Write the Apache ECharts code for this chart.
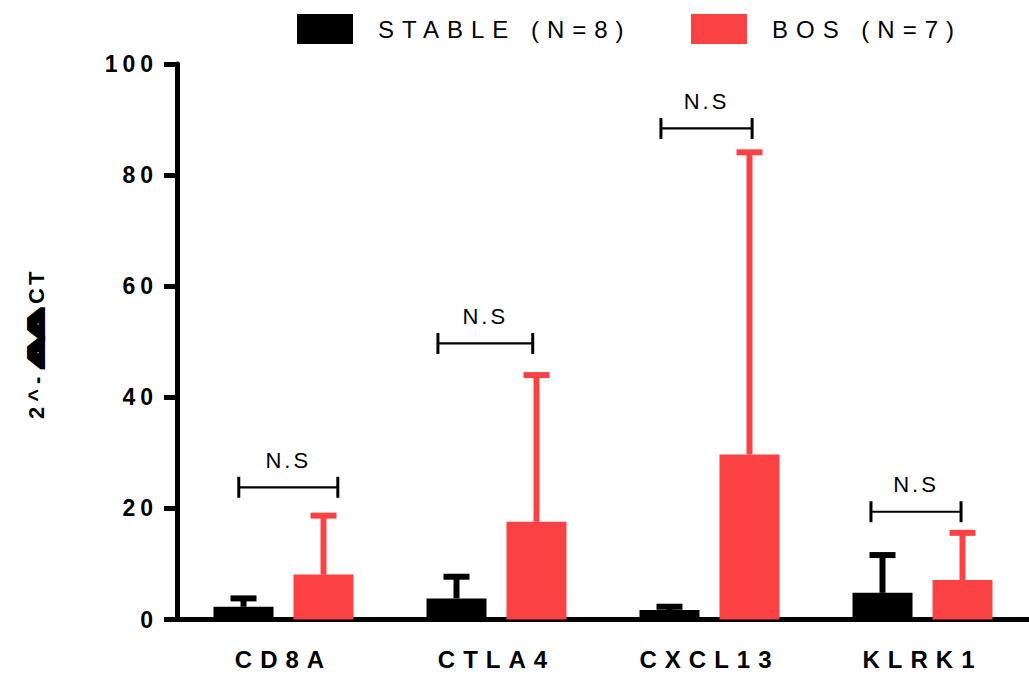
<!DOCTYPE html>
<html>
<head>
<meta charset="utf-8">
<script src="https://cdn.jsdelivr.net/npm/echarts@6/dist/echarts.min.js"></script>
<style>html,body{margin:0;padding:0;background:#fff}#c{width:1029px;height:677px}</style>
</head>
<body>
<div id="c"></div>
<script>
// ---- data ----
const categories = ['CD8A', 'CTLA4', 'CXCL13', 'KLRK1'];
const stableMean = [2.3, 3.8, 1.7, 4.8];
const stableUpper = [3.8, 7.7, 2.3, 11.6];
const bosMean = [8.1, 17.6, 29.7, 7.1];
const bosUpper = [18.7, 44.0, 84.1, 15.6];
const bracketStart = [0.29, 1.225, 2.272, 3.258];
const bracketEnd = [0.755, 1.67, 2.70, 3.681];
const bracketY = [23.8, 49.7, 88.4, 19.4];
const bracketLabel = 'N.S';
const yTicks = [0, 20, 40, 60, 80, 100];
const legendNames = ['STABLE (N=8)', 'BOS (N=7)'];
const yNameParts = ['2^-', 'ΔΔ', 'CT'];

const BLACK = '#000000';
const RED = '#fa4245';
const FONT = 'Liberation Sans';

const chart = echarts.init(document.getElementById('c'), null, {renderer: 'svg'});

function errRender(offset, color) {
  return function (params, api) {
    const cat = api.value(0);
    const m = api.coord([cat, api.value(1)]);
    const u = api.coord([cat, api.value(2)]);
    const x = m[0] + offset;
    return {
      type: 'group',
      children: [
        {type: 'rect', shape: {x: x - 3, y: u[1], width: 6, height: m[1] - u[1]}, style: {fill: color}},
        {type: 'rect', shape: {x: x - 13, y: u[1] - 3, width: 26, height: 6}, style: {fill: color}}
      ]
    };
  };
}

function bracketRender(params, api) {
  const a = api.coord([api.value(0), api.value(2)]);
  const b = api.coord([api.value(1), api.value(2)]);
  const y = a[1];
  return {
    type: 'group',
    children: [
      {type: 'line', shape: {x1: a[0], y1: y, x2: b[0], y2: y}, style: {stroke: BLACK, lineWidth: 2.2}},
      {type: 'line', shape: {x1: a[0], y1: y - 10.5, x2: a[0], y2: y + 10.5}, style: {stroke: BLACK, lineWidth: 3}},
      {type: 'line', shape: {x1: b[0], y1: y - 10.5, x2: b[0], y2: y + 10.5}, style: {stroke: BLACK, lineWidth: 3}},
      {type: 'text', x: (a[0] + b[0]) / 2, y: y - 27,
        style: {text: bracketLabel, font: '22px "Liberation Sans"', fill: BLACK,
          align: 'center', verticalAlign: 'middle', textAlign: 'center', textVerticalAlign: 'middle'}}
    ]
  };
}

const legendBase = {
  top: 14, itemWidth: 56, itemHeight: 30, icon: 'rect', selectedMode: false, padding: 0,
  textStyle: {fontSize: 24, fontFamily: FONT, color: BLACK, padding: [5, 0, 0, 20]}
};

const nameTxt = (text, x, y, font, extra) => ({
  type: 'text', x: x, y: y, rotation: Math.PI / 2,
  style: Object.assign({text: text, font: font, fill: BLACK,
    align: 'left', verticalAlign: 'middle', textAlign: 'left', textVerticalAlign: 'middle'}, extra || {})
});

const deltaEl = nameTxt(yNameParts[1], 36, 367, 'bold 20px "Liberation Sans"',
  {stroke: BLACK, lineWidth: 4, lineJoin: 'miter'});
deltaEl.scaleX = 2.0;
deltaEl.scaleY = 1;

const option = {
  animation: false,
  legend: [
    Object.assign({}, legendBase, {left: 297, data: [legendNames[0]]}),
    Object.assign({}, legendBase, {left: 691, data: [legendNames[1]]})
  ],
  grid: {left: 177, right: 0, top: 64, bottom: 57.5, containLabel: false},
  xAxis: [
    {
      type: 'category', data: categories,
      axisLine: {lineStyle: {color: BLACK, width: 5}},
      axisTick: {alignWithLabel: true, length: 12, lineStyle: {color: BLACK, width: 4}},
      axisLabel: {color: BLACK, fontSize: 24, fontWeight: 'bold', fontFamily: FONT, margin: 28}
    },
    {type: 'value', min: 0, max: 4, show: false}
  ],
  yAxis: {
    type: 'value', min: 0, max: 100, interval: 20,
    axisLine: {show: true, lineStyle: {color: BLACK, width: 5}},
    axisTick: {show: true, length: 13, lineStyle: {color: BLACK, width: 5}},
    axisLabel: {color: BLACK, fontSize: 23, fontWeight: 'bold', fontFamily: FONT, margin: 19},
    splitLine: {show: false}
  },
  graphic: [
    nameTxt(yNameParts[0], 36, 419, 'bold 22px "Liberation Sans"'),
    deltaEl,
    nameTxt(yNameParts[2], 36, 304, 'bold 22px "Liberation Sans"')
  ],
  series: [
    {name: legendNames[0], type: 'bar', data: stableMean, barWidth: 60, barGap: '33.33%', itemStyle: {color: BLACK}, z: 2},
    {name: legendNames[1], type: 'bar', data: bosMean, barWidth: 60, barGap: '33.33%', itemStyle: {color: RED}, z: 2},
    {type: 'custom', renderItem: errRender(-40, BLACK), encode: {x: 0, y: [1, 2]}, z: 3,
      data: categories.map((c, i) => [i, stableMean[i], stableUpper[i]])},
    {type: 'custom', renderItem: errRender(40, RED), encode: {x: 0, y: [1, 2]}, z: 3,
      data: categories.map((c, i) => [i, bosMean[i], bosUpper[i]])},
    {type: 'custom', xAxisIndex: 1, renderItem: bracketRender, encode: {x: [0, 1], y: 2}, z: 4,
      data: bracketY.map((y, i) => [bracketStart[i], bracketEnd[i], y])}
  ]
};

chart.setOption(option);

const spacing = {};
categories.forEach(c => spacing[c] = '8px');
yTicks.forEach(t => spacing[String(t)] = '5px');
legendNames.forEach(n => spacing[n] = '8px');
spacing[bracketLabel] = '3px';
spacing[yNameParts[0]] = '5px';
spacing[yNameParts[1]] = '0px';
spacing[yNameParts[2]] = '3px';
function applySpacing() {
  document.querySelectorAll('#c text').forEach(t => {
    const s = spacing[t.textContent];
    if (s) t.style.letterSpacing = s;
  });
}
applySpacing();
chart.on('finished', applySpacing);
</script>
</body>
</html>
